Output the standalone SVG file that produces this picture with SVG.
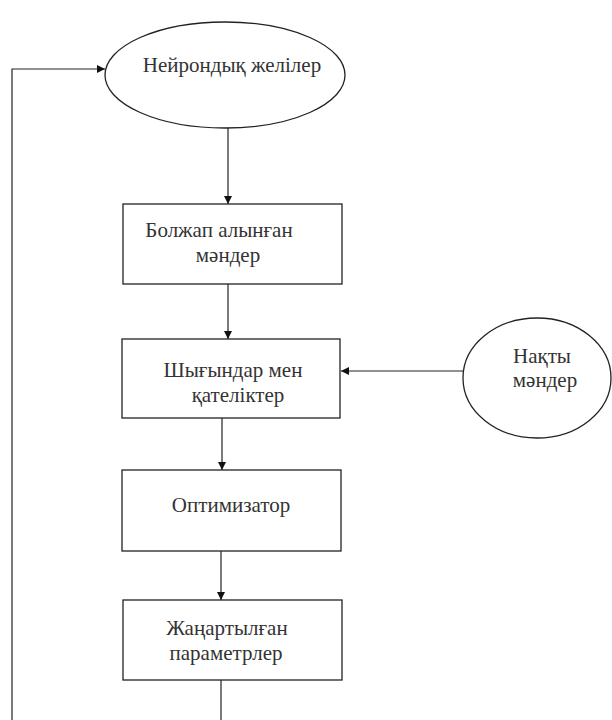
<svg xmlns="http://www.w3.org/2000/svg" width="612" height="720" viewBox="0 0 612 720">
<defs>
<style>
.shape{fill:#fff;stroke:#222;stroke-width:1.3}
.conn{fill:none;stroke:#222;stroke-width:1.2}
.lbl{font-family:'Liberation Serif','Times New Roman',serif;font-size:21px;fill:#333;text-anchor:middle}
</style>
<marker id="arr" viewBox="0 0 10 10" refX="10" refY="5" markerWidth="8" markerHeight="8" markerUnits="userSpaceOnUse" orient="auto">
<path d="M0,0 L10,5 L0,10 z" fill="#111"/>
</marker>
</defs>
<rect width="612" height="720" fill="#fff"/>
<g id="connectors">
<path class="conn" d="M12,720 L12,69 L105,69" marker-end="url(#arr)"/>
<path class="conn" d="M228,128 L228,204" marker-end="url(#arr)"/>
<path class="conn" d="M228,284 L228,339" marker-end="url(#arr)"/>
<path class="conn" d="M463,371 L341,371" marker-end="url(#arr)"/>
<path class="conn" d="M222,418 L222,470" marker-end="url(#arr)"/>
<path class="conn" d="M221,551 L221,600" marker-end="url(#arr)"/>
<path class="conn" d="M221,680 L221,720"/>
</g>
<g id="n1">
<ellipse class="shape" cx="225" cy="75" rx="120" ry="53"/>
<text class="lbl" x="232" y="72">Нейрондық желілер</text>
</g>
<g id="n2">
<rect class="shape" x="123" y="204" width="219" height="80"/>
<text class="lbl" x="219" y="237">Болжап алынған</text>
<text class="lbl" x="228" y="262">мәндер</text>
</g>
<g id="n3">
<rect class="shape" x="122" y="339" width="218" height="79"/>
<text class="lbl" x="233" y="377">Шығындар мен</text>
<text class="lbl" x="238" y="402">қателіктер</text>
</g>
<g id="n4">
<ellipse class="shape" cx="537" cy="378" rx="74" ry="60"/>
<text class="lbl" x="542" y="363">Нақты</text>
<text class="lbl" x="545" y="387">мәндер</text>
</g>
<g id="n5">
<rect class="shape" x="122" y="470" width="219" height="81"/>
<text class="lbl" x="231" y="512">Оптимизатор</text>
</g>
<g id="n6">
<rect class="shape" x="123" y="600" width="219" height="80"/>
<text class="lbl" x="227" y="635">Жаңартылған</text>
<text class="lbl" x="226" y="660">параметрлер</text>
</g>
</svg>
